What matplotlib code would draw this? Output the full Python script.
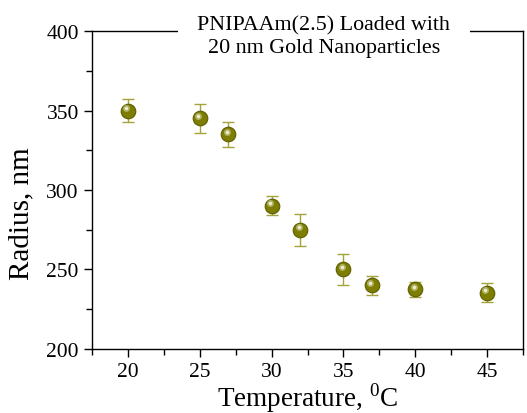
import matplotlib
matplotlib.use("Agg")
import matplotlib.pyplot as plt
import matplotlib.transforms as mtransforms
from matplotlib.ticker import MultipleLocator

plt.rcParams['font.family'] = ['Liberation Serif', 'DejaVu Serif']
plt.rcParams['mathtext.fontset'] = 'custom'
plt.rcParams['mathtext.rm'] = 'Liberation Serif'

# data
temps = [20, 25, 27, 30, 32, 35, 37, 40, 45]
radius = [350, 345, 335, 290, 275, 250, 240, 237.5, 235.5]
errors = [7, 9, 8, 6, 10, 10, 6, 4.5, 6]

fig = plt.figure(figsize=(5.27, 4.14), dpi=100)
ax = fig.add_axes([0.1746, 0.1546, 0.8178, 0.7681])

ax.errorbar(temps, radius, yerr=errors, fmt='none', ecolor='#a3a33a',
            elinewidth=1.0, capsize=4, capthick=1.0, zorder=2)
ax.plot(temps, radius, 'o', ms=10.5, color='#7d7d00', mec='#5e5e00',
        mew=0.8, zorder=3)
# soft highlight to mimic the shaded spheres
shift = mtransforms.ScaledTranslation(-1.2/72, 1.8/72, fig.dpi_scale_trans)
ax.plot(temps, radius, 'o', ms=5, color='#c8c890', mec='none', alpha=0.7,
        transform=ax.transData + shift, zorder=4)
ax.plot(temps, radius, 'o', ms=2.5, color='#f4f4e0', mec='none', alpha=0.9,
        transform=ax.transData + shift, zorder=5)

ax.set_xlim(17.5, 47.5)
ax.set_ylim(200, 400)
ax.xaxis.set_major_locator(MultipleLocator(5))
ax.xaxis.set_minor_locator(MultipleLocator(2.5))
ax.yaxis.set_major_locator(MultipleLocator(50))
ax.yaxis.set_minor_locator(MultipleLocator(25))
ax.tick_params(which='major', direction='out', length=6, width=1, labelsize=15.5)
ax.tick_params(which='minor', direction='out', length=4, width=1)
for s in ax.spines.values():
    s.set_linewidth(1)

ax.set_xlabel('Temperature, $^{\\mathrm{0}}$C', fontsize=19.5, labelpad=-1)
ax.set_ylabel('Radius, nm', fontsize=21)
ax.yaxis.set_label_coords(-0.133, 0.43)

ax.text(0.538, 0.984, 'PNIPAAm(2.5) Loaded with\n20 nm Gold Nanoparticles',
        transform=ax.transAxes, ha='center', va='center', fontsize=15.8,
        linespacing=1.2,
        bbox=dict(boxstyle='square,pad=0.9', fc='white', ec='none'), zorder=6)

fig.savefig('out.png', dpi=100)
